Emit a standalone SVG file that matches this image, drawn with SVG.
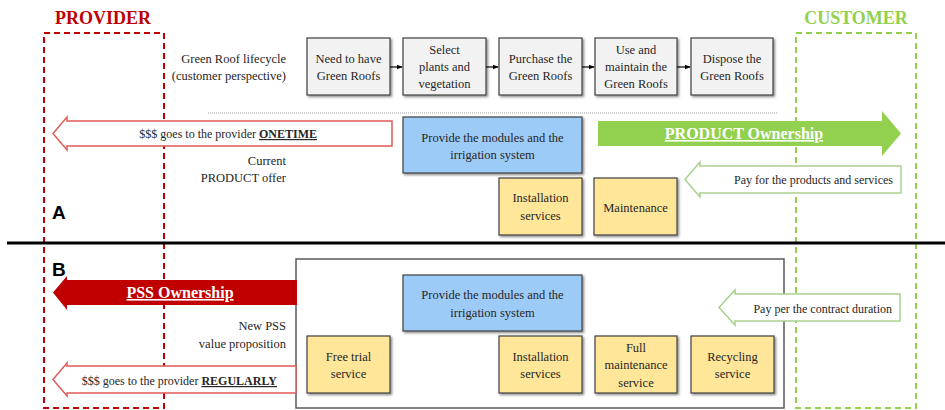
<svg xmlns="http://www.w3.org/2000/svg" width="945" height="410" viewBox="0 0 945 410">
<defs>
<filter id="sh" x="-10%" y="-10%" width="130%" height="130%">
<feDropShadow dx="1.5" dy="1.5" stdDeviation="1" flood-color="#000" flood-opacity="0.45"/>
</filter>
<marker id="ah" viewBox="0 0 10 10" refX="9" refY="5" markerWidth="5" markerHeight="5" orient="auto">
<path d="M0,1 L10,5 L0,9 z" fill="#000"/>
</marker>
<style>
text{font-family:"Liberation Serif","Times New Roman",serif;font-size:12.5px;fill:#262626}
.c{text-anchor:middle}
.r{text-anchor:end}
.sm{font-size:12px}
.gbox{fill:#f2f2f2;stroke:#404040;stroke-width:1.2;filter:url(#sh)}
.bbox{fill:#9dcbf8;stroke:#404040;stroke-width:1.2;filter:url(#sh)}
.ybox{fill:#ffe699;stroke:#404040;stroke-width:1.2;filter:url(#sh)}
.hdr{font-weight:bold;font-size:18px}
.lbl{font-family:"Liberation Sans",Arial,sans-serif;font-weight:bold;font-size:19px;fill:#000}
.own{font-weight:bold;font-size:16px;fill:#fff;text-decoration:underline}
.redo{fill:#fff;stroke:#e05a5a;stroke-width:1.5}
.grno{fill:#fff;stroke:#a9d18e;stroke-width:1.5}
</style>
</defs>
<rect width="945" height="410" fill="#fff"/>

<g id="provider">
<rect x="44" y="33" width="120" height="375" fill="none" stroke="#c00000" stroke-width="2" stroke-dasharray="6,4"/>
<text x="103" y="24" class="c hdr" style="fill:#c00000">PROVIDER</text>
</g>
<g id="customer">
<rect x="796" y="33" width="120" height="375" fill="none" stroke="#92d050" stroke-width="2" stroke-dasharray="6,4"/>
<text x="856" y="24" class="c hdr" style="fill:#92d050">CUSTOMER</text>
</g>

<line x1="7" y1="243" x2="945" y2="243" stroke="#000" stroke-width="3"/>
<text x="52" y="219" class="lbl">A</text>
<text x="52" y="276" class="lbl">B</text>

<g id="lifecycle-label">
<text x="286" y="63" class="r">Green Roof lifecycle</text>
<text x="286" y="80" class="r">(customer perspective)</text>
</g>
<g id="lc1"><rect x="307" y="38" width="83" height="57" class="gbox"/>
<text x="348.5" y="63" class="c">Need to have</text><text x="348.5" y="80" class="c">Green Roofs</text></g>
<g id="lc2"><rect x="403" y="38" width="83" height="57" class="gbox"/>
<text x="444.5" y="54" class="c">Select</text><text x="444.5" y="71" class="c">plants and</text><text x="444.5" y="88" class="c">vegetation</text></g>
<g id="lc3"><rect x="499" y="38" width="83" height="57" class="gbox"/>
<text x="540.5" y="63" class="c">Purchase the</text><text x="540.5" y="80" class="c">Green Roofs</text></g>
<g id="lc4"><rect x="595" y="38" width="82" height="57" class="gbox"/>
<text x="636" y="54" class="c">Use and</text><text x="636" y="71" class="c">maintain the</text><text x="636" y="88" class="c">Green Roofs</text></g>
<g id="lc5"><rect x="691" y="38" width="82" height="57" class="gbox"/>
<text x="732" y="63" class="c">Dispose the</text><text x="732" y="80" class="c">Green Roofs</text></g>

<g id="connectors">
<line x1="390" y1="67" x2="402" y2="67" stroke="#000" stroke-width="1.2" marker-end="url(#ah)"/>
<line x1="486" y1="67" x2="498" y2="67" stroke="#000" stroke-width="1.2" marker-end="url(#ah)"/>
<line x1="582" y1="67" x2="594" y2="67" stroke="#000" stroke-width="1.2" marker-end="url(#ah)"/>
<line x1="677" y1="67" x2="690" y2="67" stroke="#000" stroke-width="1.2" marker-end="url(#ah)"/>
</g>

<line x1="208" y1="113" x2="778" y2="113" stroke="#a0a0a0" stroke-width="1" stroke-dasharray="1,1"/>

<g id="a-pay-onetime">
<path d="M53,133.5 L67,117 L67,121 L392,121 L392,146 L67,146 L67,150 Z" class="redo"/>
<text x="317" y="138" class="r sm">$$$ goes to the provider <tspan font-weight="bold" text-decoration="underline">ONETIME</tspan></text>
</g>
<g id="a-current">
<text x="286" y="165" class="r">Current</text>
<text x="286" y="182" class="r">PRODUCT offer</text>
</g>
<g id="a-modules"><rect x="403" y="117" width="179" height="56" class="bbox"/>
<text x="492.5" y="142" class="c">Provide the modules and the</text><text x="492.5" y="159" class="c">irrigation system</text></g>
<g id="a-install"><rect x="499" y="178" width="83" height="57" class="ybox"/>
<text x="540.5" y="202" class="c">Installation</text><text x="540.5" y="220" class="c">services</text></g>
<g id="a-maint"><rect x="594" y="178" width="83" height="57" class="ybox"/>
<text x="635.5" y="212" class="c">Maintenance</text></g>
<g id="a-product-ownership">
<path d="M598,121 L882,121 L882,111 L901,133.5 L882,156 L882,146 L598,146 Z" fill="#92d050"/>
<text x="744" y="139" class="c own">PRODUCT Ownership</text>
</g>
<g id="a-pay-products">
<path d="M685,179.5 L700,162 L700,166 L901,166 L901,193 L700,193 L700,197 Z" class="grno"/>
<text x="893" y="184" class="r sm">Pay for the products and services</text>
</g>

<g id="b-pss-box">
<rect x="296" y="259" width="488" height="149" fill="none" stroke="#595959" stroke-width="1.5"/>
</g>
<g id="b-pss-ownership">
<path d="M53,292.5 L67,276 L67,280 L297,280 L297,305 L67,305 L67,310 Z" fill="#c00000"/>
<text x="180" y="298" class="c own">PSS Ownership</text>
</g>
<g id="b-newpss">
<text x="286" y="330" class="r">New PSS</text>
<text x="286" y="348" class="r">value proposition</text>
</g>
<g id="b-pay-regularly">
<path d="M53,379.5 L67,363 L67,366 L296,366 L296,393 L67,393 L67,396 Z" class="redo"/>
<text x="277" y="385" class="r sm">$$$ goes to the provider <tspan font-weight="bold" text-decoration="underline">REGULARLY</tspan></text>
</g>
<g id="b-modules"><rect x="403" y="275" width="179" height="56" class="bbox"/>
<text x="492.5" y="299" class="c">Provide the modules and the</text><text x="492.5" y="317" class="c">irrigation system</text></g>
<g id="b-trial"><rect x="307" y="336" width="83" height="57" class="ybox"/>
<text x="348.5" y="361" class="c">Free trial</text><text x="348.5" y="378" class="c">service</text></g>
<g id="b-install"><rect x="499" y="336" width="83" height="57" class="ybox"/>
<text x="540.5" y="361" class="c">Installation</text><text x="540.5" y="378" class="c">services</text></g>
<g id="b-fullmaint"><rect x="595" y="336" width="82" height="57" class="ybox"/>
<text x="636" y="352" class="c">Full</text><text x="636" y="369" class="c">maintenance</text><text x="636" y="387" class="c">service</text></g>
<g id="b-recycle"><rect x="691" y="336" width="83" height="57" class="ybox"/>
<text x="732.5" y="361" class="c">Recycling</text><text x="732.5" y="378" class="c">service</text></g>
<g id="b-pay-contract">
<path d="M719,307.5 L735,290 L735,294 L900,294 L900,321 L735,321 L735,325 Z" class="grno"/>
<text x="892" y="313" class="r sm">Pay per the contract duration</text>
</g>
</svg>
